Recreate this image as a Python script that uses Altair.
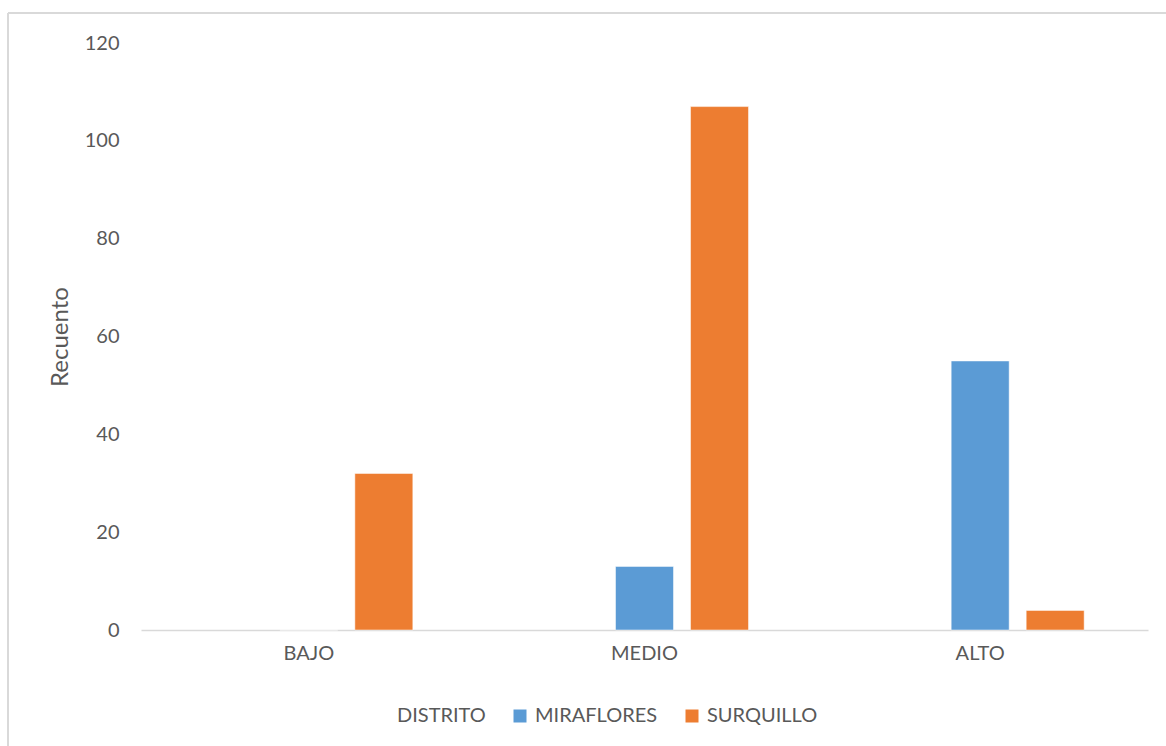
import altair as alt
import pandas as pd

categories = ["BAJO", "MEDIO", "ALTO"]
series = ["DISTRITO", "MIRAFLORES", "SURQUILLO"]
miraflores = [0, 13, 55]
surquillo = [32, 107, 4]
y_ticks = [0, 20, 40, 60, 80, 100, 120]

rows = []
for c, m, s in zip(categories, miraflores, surquillo):
    rows.append({"Nivel": c, "Distrito": "MIRAFLORES", "Recuento": m})
    rows.append({"Nivel": c, "Distrito": "SURQUILLO", "Recuento": s})
df = pd.DataFrame(rows)

FONT = "Lato"
GRAY = "#595959"
FS = 20

bars = alt.Chart(df).mark_bar(stroke="white", strokeWidth=0.5).encode(
    x=alt.X("Nivel:N", sort=categories, title=None,
            scale=alt.Scale(paddingInner=0, paddingOuter=0),
            axis=alt.Axis(labelAngle=0, ticks=False, domainColor="#D9D9D9", domainWidth=1.5,
                          labelFontSize=FS, labelColor=GRAY, labelFont=FONT, labelPadding=13)),
    xOffset=alt.XOffset("Distrito:N", scale=alt.Scale(domain=series, paddingInner=0.227, paddingOuter=0.851)),
    y=alt.Y("Recuento:Q", title="Recuento",
            scale=alt.Scale(domain=[0, 120]),
            axis=alt.Axis(values=y_ticks, grid=False, domain=False, ticks=False,
                          labelFontSize=FS, labelColor=GRAY, labelFont=FONT, labelPadding=22,
                          titleFontSize=24, titleColor=GRAY, titleFont=FONT, titleFontWeight="normal",
                          titlePadding=12)),
    color=alt.Color("Distrito:N",
                    scale=alt.Scale(domain=["MIRAFLORES", "SURQUILLO"], range=["#5B9BD5", "#ED7D31"]),
                    legend=alt.Legend(title="DISTRITO", orient="none", direction="horizontal",
                                      legendX=256, legendY=663, titleOrient="left",
                                      titleFontSize=FS, titleColor=GRAY, titleFont=FONT,
                                      titleFontWeight="normal", titlePadding=24,
                                      labelFontSize=FS, labelColor=GRAY, labelFont=FONT,
                                      symbolType="square", symbolSize=169, symbolStrokeWidth=0,
                                      labelOffset=5, columnPadding=24)),
)

border = pd.DataFrame({"k": [0]})
top_line = alt.Chart(border).mark_rule(color="#D9D9D9", strokeWidth=2).encode(
    x=alt.value(-133), x2=alt.value(1030), y=alt.value(-30))
left_line = alt.Chart(border).mark_rule(color="#D9D9D9", strokeWidth=2).encode(
    x=alt.value(-133), y=alt.value(-30), y2=alt.value(710))

chart = alt.layer(bars, top_line, left_line).properties(
    width=1007, height=587,
    autosize=alt.AutoSizeParams(type="none"),
    padding={"left": 141, "top": 43, "right": 18, "bottom": 116},
    background="white",
).configure_view(stroke=None)

chart.save("out.html", embed_options={"renderer": "svg", "actions": False})
